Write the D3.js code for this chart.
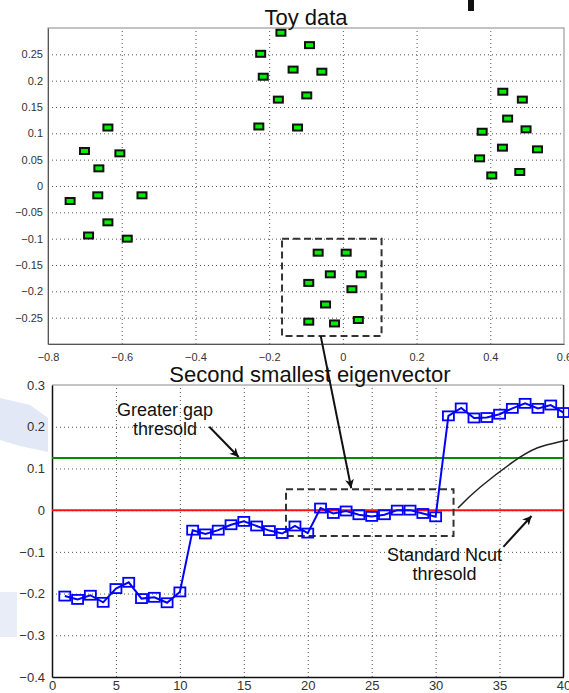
<!DOCTYPE html>
<html>
<head>
<meta charset="utf-8">
<script src="https://cdn.jsdelivr.net/npm/d3@7"></script>
<style>
    body { margin: 0; background: #fff; }
    svg { display: block; font-family: "Liberation Sans", Arial, sans-serif; }
    .grid line { stroke: #555; stroke-dasharray: 1,3; }
    .tick text { fill: #333; }
</style>
</head>
<body>
<div class="container"></div>
<script>
// toy data points (4 clusters of 10)
var toyX = [
    -0.168, -0.0905, -0.223, -0.135, -0.057, -0.216, -0.175, -0.098, -0.228, -0.123,
    0.434, 0.487, 0.447, 0.378, 0.497, 0.433, 0.528, 0.371, 0.404, 0.48,
    -0.6375, -0.701, -0.605, -0.662, -0.74, -0.665, -0.545, -0.6375, -0.69, -0.585,
    -0.067, 0.009, -0.034, 0.05, -0.0925, 0.0246, -0.047, -0.0925, -0.0226, 0.042
];
var toyY = [
    0.291, 0.2675, 0.251, 0.221, 0.217, 0.2075, 0.164, 0.172, 0.113, 0.111,
    0.179, 0.164, 0.128, 0.103, 0.1076, 0.0728, 0.0696, 0.0525, 0.02, 0.0266,
    0.111, 0.0665, 0.062, 0.0335, -0.0285, -0.0177, -0.0177, -0.069, -0.094, -0.1,
    -0.1266, -0.1266, -0.1677, -0.1677, -0.184, -0.196, -0.225, -0.2576, -0.261, -0.2544
];
var topXTicks = [-0.8, -0.6, -0.4, -0.2, 0, 0.2, 0.4, 0.6];
var topYTicks = [-0.25, -0.2, -0.15, -0.1, -0.05, 0, 0.05, 0.1, 0.15, 0.2, 0.25];

// second smallest eigenvector, index 1..40
var eigIndex = d3.range(1, 41);
var eigValues = [
    -0.206, -0.214, -0.204, -0.221, -0.188, -0.173, -0.212, -0.209, -0.222, -0.196,
    -0.048, -0.057, -0.048, -0.035, -0.027, -0.038, -0.049, -0.056, -0.038, -0.055,
    0.005, -0.008, -0.002, -0.011, -0.015, -0.011, 0.0, 0.0, -0.008, -0.016,
    0.226, 0.245, 0.221, 0.222, 0.23, 0.244, 0.256, 0.244, 0.252, 0.234
];
var botXTicks = [0, 5, 10, 15, 20, 25, 30, 35, 40];
var botYTicks = [-0.4, -0.3, -0.2, -0.1, 0, 0.1, 0.2, 0.3];
var gapThreshold = 0.125;
var ncutThreshold = 0;
var curveX = [31.75, 33.5, 36.6, 38.4, 40.35];
var curveY = [0.005, 0.0555, 0.127, 0.154, 0.168];

var W = 569, H = 693;
var svg = d3.select(".container").append("svg").attr("width", W).attr("height", H);

// faint watermark shapes on the left
svg.append("path").attr("d", "M0,398 L30,405 L48,418 L48,452 L20,446 L0,440 Z").attr("fill", "#e2e8f5");
svg.append("rect").attr("x", 0).attr("y", 592).attr("width", 17).attr("height", 45).attr("fill", "#e8edf7");
svg.append("rect").attr("x", 468).attr("y", 0).attr("width", 6).attr("height", 11).attr("fill", "#111");

var fmt = (d) => d3.format("")(+d.toFixed(2));

// ---------- top plot ----------
var xTop = d3.scaleLinear().domain([-0.8, 0.6]).range([48, 564]);
var yTop = d3.scaleLinear().domain([-0.3, 0.3]).range([344, 28]);

svg.append("g").attr("class", "grid")
    .attr("transform", "translate(0,344)")
    .call(d3.axisBottom(xTop).tickValues(topXTicks.slice(1, -1)).tickSize(-316).tickFormat(""))
    .call(g => g.select(".domain").remove());
svg.append("g").attr("class", "grid")
    .attr("transform", "translate(48,0)")
    .call(d3.axisLeft(yTop).tickValues(topYTicks).tickSize(-516).tickFormat(""))
    .call(g => g.select(".domain").remove());

svg.append("rect").attr("x", 48).attr("y", 28).attr("width", 516).attr("height", 316)
    .attr("fill", "none").attr("stroke", "#888").attr("stroke-width", 1);

svg.append("g").attr("transform", "translate(0,344)")
    .call(d3.axisBottom(xTop).tickValues(topXTicks).tickSize(0).tickPadding(9).tickFormat(fmt))
    .call(g => g.select(".domain").attr("stroke", "#555"))
    .selectAll("text").attr("font-size", 11);
svg.append("g").attr("transform", "translate(48,0)")
    .call(d3.axisLeft(yTop).tickValues(topYTicks).tickSize(0).tickPadding(5).tickFormat(fmt))
    .call(g => g.select(".domain").attr("stroke", "#555"))
    .selectAll("text").attr("font-size", 11);

svg.append("text").attr("x", 306).attr("y", 25).attr("text-anchor", "middle")
    .attr("font-size", 22).attr("fill", "#111").text("Toy data");

// dashed box round bottom cluster
svg.append("rect")
    .attr("x", xTop(-0.165)).attr("y", yTop(-0.1))
    .attr("width", xTop(0.105) - xTop(-0.165)).attr("height", yTop(-0.285) - yTop(-0.1))
    .attr("fill", "none").attr("stroke", "#333").attr("stroke-width", 2).attr("stroke-dasharray", "7,4");

svg.append("g").selectAll("rect").data(toyX).join("rect")
    .attr("x", (d) => xTop(d) - 4.5).attr("y", (d, i) => yTop(toyY[i]) - 3)
    .attr("width", 9).attr("height", 6)
    .attr("fill", "#00ee00").attr("stroke", "#111").attr("stroke-width", 2);

// ---------- bottom plot ----------
var xBot = d3.scaleLinear().domain([0, 40]).range([52, 563.5]);
var yBot = d3.scaleLinear().domain([-0.4, 0.3]).range([677, 385]);

svg.append("g").attr("class", "grid")
    .attr("transform", "translate(0,677)")
    .call(d3.axisBottom(xBot).tickValues(botXTicks.slice(1, -1)).tickSize(-292).tickFormat(""))
    .call(g => g.select(".domain").remove());
svg.append("g").attr("class", "grid")
    .attr("transform", "translate(52,0)")
    .call(d3.axisLeft(yBot).tickValues(botYTicks.slice(1, -1)).tickSize(-511.5).tickFormat(""))
    .call(g => g.select(".domain").remove());

svg.append("line").attr("x1", 52).attr("x2", 563.5).attr("y1", 385).attr("y2", 385).attr("stroke", "#888");
svg.append("line").attr("x1", 563.5).attr("x2", 563.5).attr("y1", 385).attr("y2", 677).attr("stroke", "#111").attr("stroke-width", 1.5);

svg.append("g").attr("transform", "translate(0,677)")
    .call(d3.axisBottom(xBot).tickValues(botXTicks).tickSize(0).tickPadding(4).tickFormat(fmt))
    .call(g => g.select(".domain").attr("stroke", "#111").attr("stroke-width", 1.5))
    .selectAll("text").attr("font-size", 13);
svg.append("g").attr("transform", "translate(52,0)")
    .call(d3.axisLeft(yBot).tickValues(botYTicks).tickSize(0).tickPadding(7).tickFormat(fmt))
    .call(g => g.select(".domain").attr("stroke", "#111").attr("stroke-width", 1.5))
    .selectAll("text").attr("font-size", 13);

svg.append("text").attr("x", 310).attr("y", 382).attr("text-anchor", "middle")
    .attr("font-size", 22).attr("fill", "#111").text("Second smallest eigenvector");

// thresholds
svg.append("line").attr("x1", xBot(0)).attr("x2", xBot(40))
    .attr("y1", yBot(gapThreshold)).attr("y2", yBot(gapThreshold))
    .attr("stroke", "#0a8a0a").attr("stroke-width", 2);
svg.append("line").attr("x1", xBot(0)).attr("x2", xBot(40))
    .attr("y1", yBot(ncutThreshold)).attr("y2", yBot(ncutThreshold))
    .attr("stroke", "#ff1010").attr("stroke-width", 2);

// dashed box round the middle cluster
svg.append("rect")
    .attr("x", xBot(18.3)).attr("y", yBot(0.05))
    .attr("width", xBot(31.4) - xBot(18.3)).attr("height", yBot(-0.062) - yBot(0.05))
    .attr("fill", "none").attr("stroke", "#333").attr("stroke-width", 2).attr("stroke-dasharray", "7,4");

// eigenvector line + square markers
svg.append("path")
    .attr("d", d3.line().x((d) => xBot(d)).y((d, i) => yBot(eigValues[i]))(eigIndex))
    .attr("fill", "none").attr("stroke", "#0000ff").attr("stroke-width", 2);
svg.append("g").selectAll("rect").data(eigIndex).join("rect")
    .attr("x", (d) => xBot(d) - 5.5).attr("y", (d, i) => yBot(eigValues[i]) - 4.5)
    .attr("width", 11).attr("height", 9)
    .attr("fill", "none").attr("stroke", "#0000ff").attr("stroke-width", 1.8);

// black curve from the box
svg.append("path")
    .attr("d", d3.line().curve(d3.curveNatural).x((d) => xBot(d)).y((d, i) => yBot(curveY[i]))(curveX))
    .attr("fill", "none").attr("stroke", "#222").attr("stroke-width", 1.5);

// arrows and annotations
var defs = svg.append("defs");
defs.append("marker").attr("id", "head").attr("viewBox", "0 0 10 10")
    .attr("refX", 10).attr("refY", 5).attr("markerWidth", 9).attr("markerHeight", 9)
    .attr("markerUnits", "userSpaceOnUse").attr("orient", "auto")
    .append("path").attr("d", "M0,0 L10,5 L0,10 L3,5 Z").attr("fill", "#111");

var arrow = (x1, y1, x2, y2) => {
    svg.append("line").attr("x1", x1).attr("y1", y1).attr("x2", x2).attr("y2", y2)
        .attr("stroke", "#111").attr("stroke-width", 2).attr("marker-end", "url(#head)");
};

arrow(xTop(-0.06), yTop(-0.285), xBot(23.4), yBot(0.05) - 1);
arrow(xBot(12.3), yBot(0.2), xBot(14.6), yBot(gapThreshold) - 1);
arrow(xBot(35.3), yBot(-0.088), xBot(37.5), yBot(-0.014));

var label = (x, y, lines) => {
    lines.forEach((t, i) => {
        svg.append("text").attr("x", x).attr("y", y + i * 19).attr("text-anchor", "middle")
            .attr("font-size", 18).attr("fill", "#111").text(t);
    });
};
label(xBot(8.84), 416, ["Greater gap", "thresold"]);
label(xBot(30.7), 561, ["Standard Ncut", "thresold"]);
</script>
</body>
</html>
